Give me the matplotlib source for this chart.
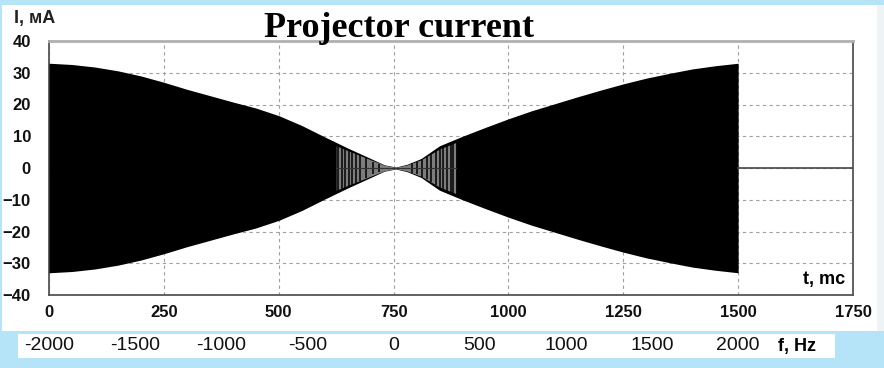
import matplotlib.pyplot as plt
from matplotlib.patches import Rectangle
import numpy as np

# envelope of the projector current
t_env = [0, 50, 100, 150, 200, 250, 300, 350, 400, 450, 500, 550, 600, 650, 700,
         730, 755, 780, 810, 850, 900, 950, 1000, 1050, 1100, 1150, 1200, 1250,
         1300, 1350, 1400, 1450, 1500]
i_env = [33, 32.6, 31.8, 30.6, 29.0, 27.0, 24.8, 22.8, 20.8, 18.9, 16.5, 13.4, 9.8,
         6.3, 3.0, 1.0, 0.3, 1.2, 3.0, 7.0, 10.0, 12.8, 15.5, 18.0, 20.2, 22.4,
         24.5, 26.5, 28.3, 29.8, 31.2, 32.2, 33]

# lighter (aliased) part near the frequency crossover
t_grey = [625, 650, 700, 730, 755, 780, 810, 850, 885]
i_grey = [7.0, 5.5, 2.6, 0.9, 0.2, 1.0, 2.6, 6.0, 8.0]

# dark spikes seen inside the light part
t_spk = [630, 638, 645, 652, 660, 668, 676, 690, 705, 718,
         790, 800, 812, 822, 832, 842, 850, 858, 866, 874, 880]
i_spk = [7.3, 6.8, 6.4, 5.9, 5.3, 4.6, 4.0, 3.0, 2.0, 1.3,
         1.5, 2.0, 2.8, 3.5, 4.5, 5.2, 6.2, 6.8, 7.3, 7.8, 8.2]

# current is zero after the sweep
t_tail = [1500, 1750]
i_tail = [0, 0]

t_ticks = [0, 250, 500, 750, 1000, 1250, 1500, 1750]
i_ticks = [-40, -30, -20, -10, 0, 10, 20, 30, 40]
f_ticks = [-2000, -1500, -1000, -500, 0, 500, 1000, 1500, 2000]

W, H = 884, 368
fig = plt.figure(figsize=(W / 100, H / 100), dpi=100)
fig.patch.set_facecolor('#b5e3f7')

# white panel + band for frequency scale
for x0, y0, w, h, c in [(2, 331, 875, 326, 'white'),
                        (877, 331, 7, 326, '#eef3f5'),
                        (18, 358, 817, 24, 'white')]:
    fig.patches.append(Rectangle((x0 / W, 1 - y0 / H), w / W, h / H,
                                 transform=fig.transFigure, facecolor=c,
                                 edgecolor='none', zorder=-10))

ax = fig.add_axes([49 / W, 1 - 295 / H, 804 / W, 254 / H])
ax.set_facecolor('white')

ax.fill_between(t_env, [-v for v in i_env], i_env, color='black', lw=0, zorder=3)
ax.fill_between(t_grey, [-v for v in i_grey], i_grey, color='#7d7d7d', lw=0, zorder=4)
ax.vlines(t_spk, [-v for v in i_spk], i_spk, color='black', lw=1.1, zorder=5)
ax.plot(t_tail, i_tail, color='#444', lw=1.2, zorder=5)
ax.plot([t_grey[0], t_grey[-1]], [0, 0], color='#333', lw=0.8, zorder=6)

ax.set_xlim(0, 1750)
ax.set_ylim(-40, 40)
ax.set_xticks(t_ticks)
ax.set_yticks(i_ticks)
ax.tick_params(length=0, pad=7, labelsize=12)
for lab in ax.get_xticklabels() + ax.get_yticklabels():
    lab.set_fontweight('bold')
    lab.set_family('Liberation Sans')
    lab.set_color('#111')
ax.tick_params(axis='y', pad=13)
ax.grid(True, color='#a0a0a0', ls=(0, (3, 3)), lw=0.8, zorder=1)

for s in ['left', 'bottom', 'right']:
    ax.spines[s].set_color('#555')
    ax.spines[s].set_linewidth(1.3)
ax.spines['top'].set_color('#b0b0b0')
ax.spines['top'].set_linewidth(2)

ax.text(0.99, 0.06, 't, mc', transform=ax.transAxes, ha='right', va='center',
        fontsize=13, fontweight='bold', family='Liberation Sans')

fig.text(14 / W, 1 - 18 / H, 'I, мА', ha='left', va='center', fontsize=13,
         fontweight='bold', family='Liberation Sans', color='#222')
fig.text(399 / W, 1 - 37 / H, 'Projector current', ha='center', va='baseline',
         fontsize=26, fontweight='bold', family='Liberation Serif')

# frequency scale: f = -2000 at t=0, +2000 at t=1500
fx = fig.add_axes([49 / W, 1 - 358 / H, 804 / W, 24 / H])
fx.set_xlim(-2000, -2000 + 1750 * 4000 / 1500)
fx.set_ylim(0, 1)
fx.axis('off')
for f in f_ticks:
    fx.text(f, 0.5, str(f), ha='center', va='center', fontsize=14,
            family='Liberation Sans', color='#111')
fig.text(778 / W, 1 - 347 / H, 'f, Hz', ha='left', va='center', fontsize=13,
         fontweight='bold', family='Liberation Sans')

fig.savefig('out.png', dpi=100, facecolor=fig.get_facecolor())
